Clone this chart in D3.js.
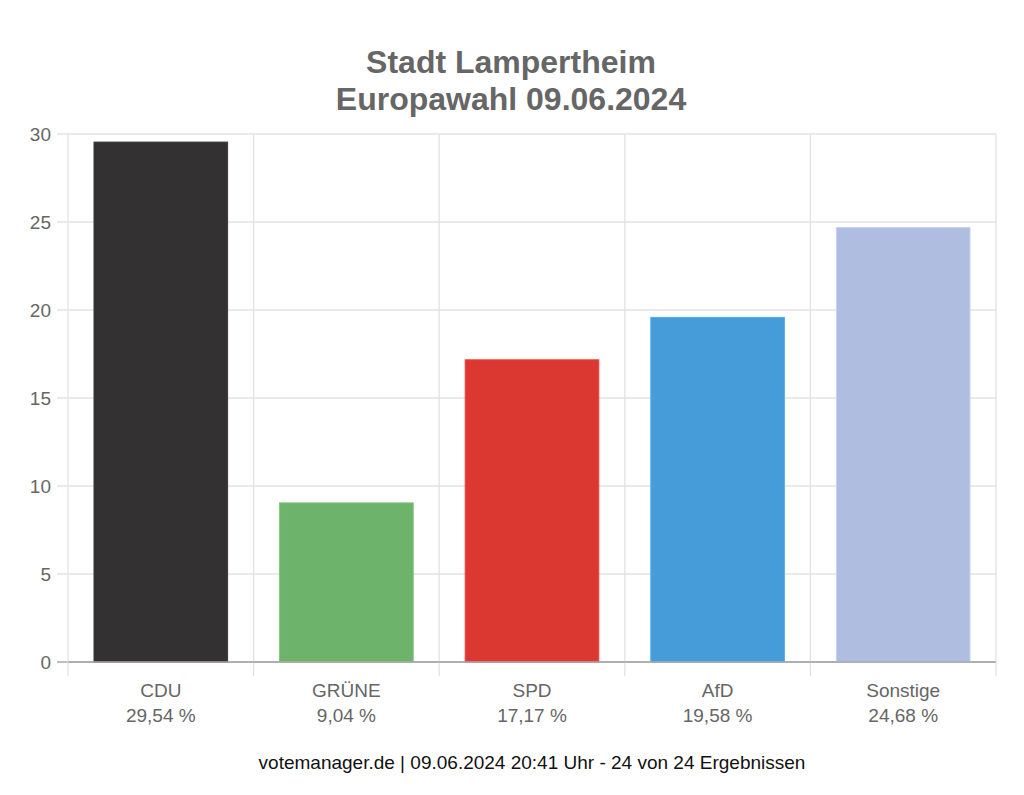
<!DOCTYPE html>
<html>
<head>
<meta charset="utf-8">
<script src="https://cdn.jsdelivr.net/npm/d3@7"></script>
<style>
  body { margin: 0; background: #fff; }
  text { font-family: "Liberation Sans", Arial, Helvetica, sans-serif; }
</style>
</head>
<body>
<svg id="chart" width="1024" height="795"></svg>
<script>
var parties = ["CDU", "GRÜNE", "SPD", "AfD", "Sonstige"];
var shares = [29.54, 9.04, 17.17, 19.58, 24.68];
var colors = ["#333132", "#6db36b", "#db3832", "#469bd9", "#aebde0"];
var yTicks = [0, 5, 10, 15, 20, 25, 30];
var titleLines = ["Stadt Lampertheim", "Europawahl 09.06.2024"];
var footer = "votemanager.de | 09.06.2024 20:41 Uhr - 24 von 24 Ergebnissen";

var svg = d3.select("#chart");
var plotLeft = 68, plotRight = 996, plotTop = 134, plotBottom = 662;

var x = d3.scaleBand().domain(parties).range([plotLeft, plotRight]).paddingInner(0).paddingOuter(0);
var y = d3.scaleLinear().domain([0, 30]).range([plotBottom, plotTop]);
var barPad = 26;

// horizontal grid
svg.append("g").selectAll("line")
  .data(yTicks)
  .enter().append("line")
  .attr("x1", plotLeft - 11).attr("x2", plotRight)
  .attr("y1", function(d) { return y(d); })
  .attr("y2", function(d) { return y(d); })
  .attr("stroke", function(d) { return d == 0 ? "#aaa" : "#e3e3e3"; })
  .attr("stroke-width", 1.3);

// vertical grid (band edges)
var edges = parties.map(function(p) { return x(p); }).concat([plotRight]);
svg.append("g").selectAll("line")
  .data(edges)
  .enter().append("line")
  .attr("x1", function(d) { return d; })
  .attr("x2", function(d) { return d; })
  .attr("y1", plotTop).attr("y2", plotBottom + 14)
  .attr("stroke", "#e3e3e3")
  .attr("stroke-width", 1.3);

// y labels
svg.append("g").selectAll("text")
  .data(yTicks)
  .enter().append("text")
  .attr("x", plotLeft - 17)
  .attr("y", function(d) { return y(d); })
  .attr("dy", "0.35em")
  .attr("text-anchor", "end")
  .attr("fill", "#666")
  .attr("font-size", 19)
  .text(function(d) { return d; });

// bars
svg.append("g").selectAll("rect")
  .data(parties)
  .enter().append("rect")
  .attr("x", function(d) { return x(d) + barPad; })
  .attr("width", x.bandwidth() - barPad * 2)
  .attr("y", function(d, i) { return y(shares[i]); })
  .attr("height", function(d, i) { return plotBottom - y(shares[i]); })
  .attr("fill", function(d, i) { return colors[i]; })
  .attr("stroke", function(d, i) { return d3.color(colors[i]).brighter(0.3); })
  .attr("stroke-width", 1);

// baseline on top of bars
svg.append("line")
  .attr("x1", plotLeft).attr("x2", plotRight)
  .attr("y1", plotBottom).attr("y2", plotBottom)
  .attr("stroke", "#aaa").attr("stroke-width", 1.3);

// x labels
var lab = svg.append("g").selectAll("text")
  .data(parties)
  .enter().append("text")
  .attr("text-anchor", "middle")
  .attr("fill", "#666")
  .attr("font-size", 19);
lab.append("tspan")
  .attr("x", function(d) { return x(d) + x.bandwidth() / 2; })
  .attr("y", 697)
  .text(function(d) { return d; });
lab.append("tspan")
  .attr("x", function(d) { return x(d) + x.bandwidth() / 2; })
  .attr("y", 722)
  .text(function(d, i) { return shares[i].toFixed(2).replace(".", ",") + " %"; });

// title
svg.append("g").selectAll("text")
  .data(titleLines)
  .enter().append("text")
  .attr("x", 511)
  .attr("y", function(d, i) { return 73 + i * 37; })
  .attr("text-anchor", "middle")
  .attr("fill", "#666")
  .attr("font-size", 32)
  .attr("font-weight", "bold")
  .text(function(d) { return d; });

// footer
svg.append("text")
  .attr("x", 532)
  .attr("y", 769)
  .attr("text-anchor", "middle")
  .attr("fill", "#111")
  .attr("font-size", 19)
  .text(footer);
</script>
</body>
</html>
